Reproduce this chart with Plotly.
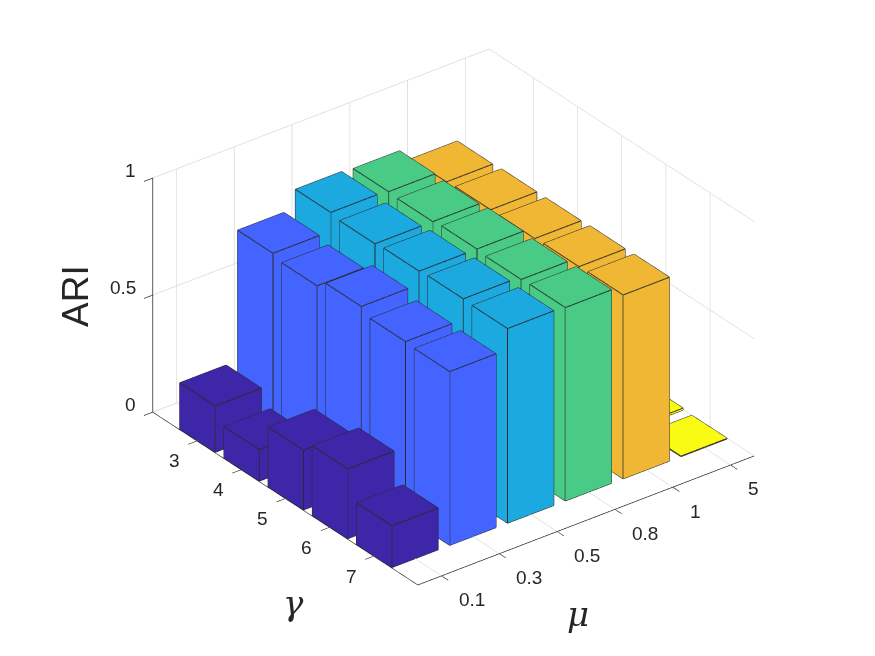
import plotly.graph_objects as go

mu_labels = ["0.1", "0.3", "0.5", "0.8", "1", "5"]
mu_positions = [1, 2, 3, 4, 5, 6]
gamma_values = [3, 4, 5, 6, 7]
z_ticks = [0, 0.5, 1]
z_labels = ["0", "0.5", "1"]
ari_mu_01 = [0.198, 0.134, 0.255, 0.298, 0.178]
ari_mu_03 = [0.755, 0.739, 0.774, 0.747, 0.742]
ari_mu_05 = [0.835, 0.824, 0.830, 0.835, 0.831]
ari_mu_08 = [0.829, 0.824, 0.830, 0.823, 0.826]
ari_mu_1 = [0.776, 0.780, 0.780, 0.783, 0.785]
ari_mu_5 = [0.008, 0.008, 0.008, 0.008, 0.002]
series = [ari_mu_01, ari_mu_03, ari_mu_05, ari_mu_08, ari_mu_1, ari_mu_5]
colors = ["#3D26A8", "#4364FF", "#1BA9E0", "#49CB86", "#EFB733", "#F9FB15"]
WIDTH = 0.8
INK = "#262626"
GRID = "#D8D8D8"
X_RANGE = [0.59, 6.41]
Y_RANGE = [8, 2]

fig = go.Figure()
for i, (vals, col) in enumerate(zip(series, colors)):
    xs, ys, zs, I, J, K = [], [], [], [], [], []
    ex, ey, ez = [], [], []
    for g, h in zip(gamma_values, vals):
        x0, x1 = i + 1 - WIDTH / 2, i + 1 + WIDTH / 2
        y0, y1 = g - WIDTH / 2, g + WIDTH / 2
        n = len(xs)
        xs += [x0, x1, x1, x0, x0, x1, x1, x0]
        ys += [y0, y0, y1, y1, y0, y0, y1, y1]
        zs += [0, 0, 0, 0, h, h, h, h]
        quads = [(0, 1, 2, 3), (4, 5, 6, 7), (0, 1, 5, 4), (1, 2, 6, 5), (2, 3, 7, 6), (3, 0, 4, 7)]
        for a, b, c, d in quads:
            I += [n + a, n + a]
            J += [n + b, n + c]
            K += [n + c, n + d]
        for a, b in [(0, 1), (1, 2), (2, 3), (3, 0), (4, 5), (5, 6), (6, 7), (7, 4), (0, 4), (1, 5), (2, 6), (3, 7)]:
            ex += [xs[n + a], xs[n + b], None]
            ey += [ys[n + a], ys[n + b], None]
            ez += [zs[n + a], zs[n + b], None]
    fig.add_trace(go.Mesh3d(x=xs, y=ys, z=zs, i=I, j=J, k=K, color=col, opacity=1,
                            flatshading=True,
                            lighting=dict(ambient=1, diffuse=0, specular=0, roughness=1, fresnel=0),
                            hoverinfo="skip", showscale=False))
    fig.add_trace(go.Scatter3d(x=ex, y=ey, z=ez, mode="lines",
                               line=dict(color="#2A2A2A", width=2),
                               hoverinfo="skip", showlegend=False))

tick_font = dict(family="Liberation Sans, Arial, sans-serif", size=19, color=INK)
common = dict(showbackground=False, showgrid=True, gridcolor=GRID, gridwidth=1.5, zeroline=False,
              showline=True, linecolor=INK, linewidth=1.5, ticks="outside", ticklen=11, tickwidth=1.5,
              tickcolor=INK, showticklabels=False, showspikes=False, title=dict(text=""))

scene_labels = []
for p, t in zip(mu_positions, mu_labels):
    scene_labels.append(dict(x=p, y=Y_RANGE[0], z=0, text=t, showarrow=False, xanchor="left", yanchor="middle",
                             xshift=15, yshift=-24, font=tick_font))
for g in gamma_values:
    scene_labels.append(dict(x=X_RANGE[0], y=g, z=0, text=str(g), showarrow=False, xanchor="center", yanchor="middle",
                             xshift=-22.5, yshift=-20, font=tick_font))
for v, t in zip(z_ticks, z_labels):
    scene_labels.append(dict(x=X_RANGE[0], y=Y_RANGE[1], z=v, text=t, showarrow=False, xanchor="right", yanchor="middle",
                             xshift=-15, yshift=7.5, font=tick_font))

r = 1.38
S = 1.376 * 1.0244
fig.update_layout(
    width=875, height=656, margin=dict(l=0, r=0, t=0, b=0),
    paper_bgcolor="white", showlegend=False,
    scene=dict(
        domain=dict(x=[0.0183, 1], y=[0.058, 1]),
        xaxis=dict(range=X_RANGE, tickvals=mu_positions, **common),
        yaxis=dict(range=Y_RANGE, tickvals=gamma_values, **common),
        zaxis=dict(range=[0, 1], tickvals=z_ticks, **common),
        aspectmode="manual", aspectratio=dict(x=0.9735 * S, y=1.0 * S, z=0.6207 * S),
        camera=dict(projection=dict(type="orthographic"), up=dict(x=0, y=0, z=1),
                    center=dict(x=0, y=0, z=0),
                    eye=dict(x=-0.527 * r, y=-0.687 * r, z=0.5 * r)),
        annotations=scene_labels,
    ),
    annotations=[
        dict(text="ARI", x=68 / 875, y=1 - 288 / 656, xref="paper", yref="paper", showarrow=False,
             xanchor="center", yanchor="middle", textangle=-90,
             font=dict(family="Liberation Sans", size=37, color=INK)),
        dict(text="<i>γ</i>", x=285 / 875, y=1 - 595 / 656, xref="paper", yref="paper", showarrow=False,
             xanchor="center", yanchor="middle",
             font=dict(family="DejaVu Serif", size=34, color=INK)),
        dict(text="<i>μ</i>", x=570 / 875, y=1 - 606 / 656, xref="paper", yref="paper", showarrow=False,
             xanchor="center", yanchor="middle",
             font=dict(family="DejaVu Serif", size=34, color=INK)),
    ],
)
fig.write_html("out.html")
